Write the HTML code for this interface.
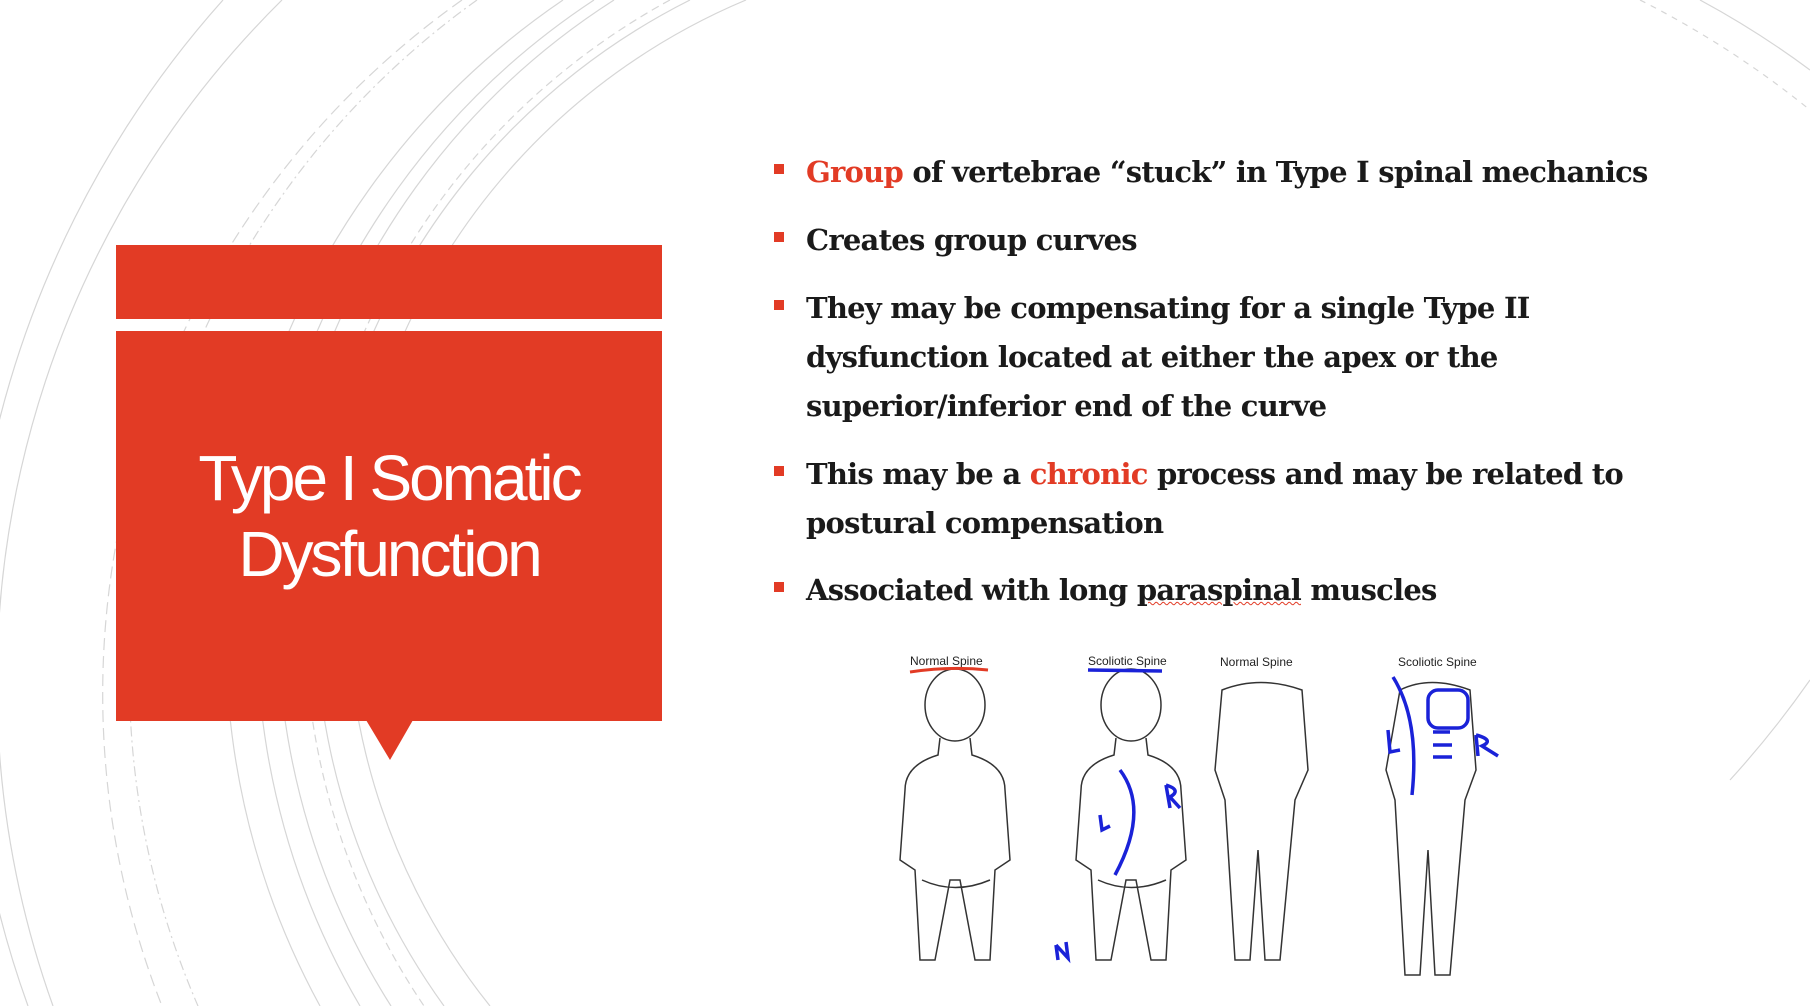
<!DOCTYPE html>
<html><head><meta charset="utf-8">
<style>
html,body{margin:0;padding:0;background:#fff;width:1810px;height:1006px;overflow:hidden;}
#slide{position:relative;width:1810px;height:1006px;overflow:hidden;background:#fff;font-family:"Liberation Serif",serif;}
.bar{position:absolute;background:#e23b25;}
#title{position:absolute;left:116px;top:440px;width:546px;text-align:center;color:#fff;font-family:"Liberation Sans",sans-serif;font-size:64px;line-height:76px;letter-spacing:-3px;font-weight:normal;}
.bl{position:absolute;left:806px;font-family:"DejaVu Serif",serif;font-size:29px;font-weight:bold;color:#1a1a1a;white-space:nowrap;letter-spacing:-0.75px;}
.bu{position:absolute;left:774px;width:10px;height:10px;background:#e23b25;}
.red{color:#e23b25;}
</style></head><body>
<div id="slide">
<svg width="1810" height="1006" style="position:absolute;left:0;top:0">
<g fill="none" stroke="#d6d6d6" stroke-width="1.2">
<path d="M223 0 A1000 1000 0 0 0 28 1006"/>
<path d="M282 0 A960 960 0 0 0 53 1006"/>
<path d="M462 0 A850 850 0 0 0 162 1006" stroke-dasharray="12 6"/>
<path d="M477 0 A830 830 0 0 0 198 1006" stroke-dasharray="10 4 2 4"/>
<path d="M563 0 A770 770 0 0 0 320 1006"/>
<path d="M594 0 A750 750 0 0 0 360 1006"/>
<path d="M614 0 A730 730 0 0 0 391 1006"/>
<path d="M670 0 A700 700 0 0 0 424 1006" stroke-dasharray="8 5"/>
<path d="M690 0 A680 680 0 0 0 444 1006"/>
<path d="M746 0 A650 650 0 0 0 490 1006"/>
<path d="M1700 0 A900 900 0 0 1 1810 70"/>
<path d="M1640 0 A950 950 0 0 1 1810 110" stroke-dasharray="6 6"/>
<path d="M1730 780 A1000 1000 0 0 0 1810 680"/>
</g>
</svg>
<div class="bar" style="left:116px;top:245px;width:546px;height:74px"></div>
<div class="bar" style="left:116px;top:331px;width:546px;height:390px"></div>
<svg width="1810" height="1006" style="position:absolute;left:0;top:0"><polygon points="366,720 413,720 390,760" fill="#e23b25"/></svg>
<div id="title">Type I Somatic<br>Dysfunction</div>

<div class="bu" style="top:164px"></div>
<div class="bl" style="top:155px"><span class="red">Group</span> of vertebrae “stuck” in Type I spinal mechanics</div>
<div class="bu" style="top:232px"></div>
<div class="bl" style="top:223px">Creates group curves</div>
<div class="bu" style="top:300px"></div>
<div class="bl" style="top:284px;line-height:49px">They may be compensating for a single Type II<br>dysfunction located at either the apex or the<br>superior/inferior end of the curve</div>
<div class="bu" style="top:466px"></div>
<div class="bl" style="top:450px;line-height:49px">This may be a <span class="red">chronic</span> process and may be related to<br>postural compensation</div>
<div class="bu" style="top:582px"></div>
<div class="bl" style="top:573px">Associated with long <span style="text-decoration:underline wavy #e23b25;text-decoration-thickness:1px">paraspinal</span> muscles</div>

<svg width="1810" height="1006" style="position:absolute;left:0;top:0">
<g font-family="Liberation Sans, sans-serif" font-size="12" fill="#222">
<text x="910" y="665">Normal Spine</text>
<text x="1088" y="665">Scoliotic Spine</text>
<text x="1220" y="666">Normal Spine</text>
<text x="1398" y="666">Scoliotic Spine</text>
</g>
<g fill="none" stroke="#333" stroke-width="1.5">
<g id="fig">
<ellipse cx="955" cy="705" rx="30" ry="36"/>
<path d="M940 738 L938 755 Q905 765 905 790 L900 860 L915 870 L920 960 L935 960 L950 880 L960 880 L975 960 L990 960 L995 870 L1010 860 L1005 790 Q1005 765 972 755 L970 738"/>
<path d="M922 880 Q955 895 990 880"/>
</g>
<use href="#fig" x="176"/>
<path d="M1222 690 Q1260 675 1302 690 L1308 770 L1295 800 L1280 960 L1265 960 L1258 850 L1250 960 L1235 960 L1225 800 L1215 770 Z"/>
<path d="M1400 690 Q1430 675 1470 690 L1476 770 L1465 800 L1450 975 L1435 975 L1428 850 L1420 975 L1405 975 L1395 800 L1386 770 Z"/>
</g>
<g fill="none" stroke="#e23b25" stroke-width="3"><path d="M910 672 Q950 666 988 670"/></g>
<g fill="none" stroke="#1a22d8" stroke-width="3.5">
<path d="M1088 670 L1162 671"/>
<path d="M1120 770 Q1150 810 1115 875"/>
<path d="M1100 815 L1102 830 L1110 826"/>
<path d="M1166 785 L1170 808 M1166 785 Q1182 790 1170 797 L1180 808"/>
<path d="M1056 945 L1058 960 M1056 945 L1068 958 L1066 942"/>
<path d="M1393 677 Q1420 720 1412 795"/>
<rect x="1428" y="690" width="40" height="38" rx="10"/>
<path d="M1388 730 L1390 752 L1400 750"/>
<path d="M1433 732 L1450 732 M1433 745 L1452 745 M1433 757 L1452 757"/>
<path d="M1476 735 L1478 756 M1476 735 Q1495 740 1482 746 L1498 756"/>
</g>
</svg>
</div>
</body></html>
